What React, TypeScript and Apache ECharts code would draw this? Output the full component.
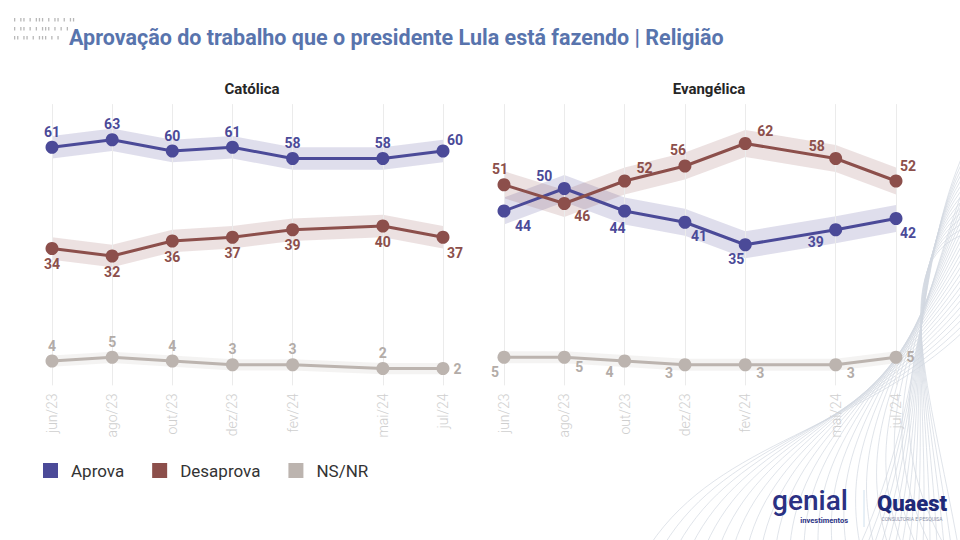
import React, { useEffect, useRef } from "react";
import * as echarts from "echarts";

// ---------- data ----------
const months = ["jun/23", "ago/23", "out/23", "dez/23", "fev/24", "mai/24", "jul/24"];
const monthOffsets = [0, 2, 4, 6, 8, 11, 13]; // months since jun/23

const seriesNames = ["Aprova", "Desaprova", "NS/NR"];

const catolicaAprova = [61, 63, 60, 61, 58, 58, 60];
const catolicaDesaprova = [34, 32, 36, 37, 39, 40, 37];
const catolicaNsnr = [4, 5, 4, 3, 3, 2, 2];

const evangelicaAprova = [44, 50, 44, 41, 35, 39, 42];
const evangelicaDesaprova = [51, 46, 52, 56, 62, 58, 52];
const evangelicaNsnr = [5, 5, 4, 3, 3, 3, 5];

// margin of error (band half-width) per series
const catolicaMargin = [3, 3, 1.5];
const evangelicaMargin = [3.6, 3.6, 1.6];

// ---------- styles ----------
const lineColors = ["#4b4a98", "#8c4f4b", "#bcb4af"];
const labelColors = ["#4b4a98", "#8c4f4b", "#b3aca8"];
const bandColors = ["rgba(75,74,152,0.18)", "rgba(140,79,75,0.17)", "rgba(188,180,175,0.16)"];

type LP = [string, number, number];
const catPlacement: LP[][] = [
  [["top", 0, 0], ["top", 0, 0], ["top", 0, 0], ["top", 0, 0], ["top", 0, 0], ["top", 0, 0], ["top", 12, 4]],
  [["bottom", 0, 0], ["bottom", 0, 0], ["bottom", 0, 0], ["bottom", 0, 0], ["bottom", 0, 0], ["bottom", 0, 0], ["bottom", 12, 0]],
  [["top", 0, 0], ["top", 0, 0], ["top", 0, 0], ["top", 0, 0], ["top", 0, 0], ["top", 0, 0], ["right", 0, 0]],
];
const evaPlacement: LP[][] = [
  [["bottom", 19, -1], ["top", -20, 3], ["bottom", -7, 1], ["bottom", 14, -2], ["bottom", -9, -1], ["bottom", -20, -3], ["bottom", 12, -1]],
  [["top", -4, 0], ["bottom", 18, -3], ["top", 20, 2], ["top", -7, -1], ["top", 20, 3], ["top", -19, 3], ["top", 12, 0]],
  [["bottom", -9, -1], ["bottom", 15, -6], ["bottom", -15, -5], ["bottom", -16, -7], ["bottom", 15, -7], ["bottom", 15, -7], ["right", 0, 0]],
];

const FONT = "Roboto";

function buildPanel(gi: number, values: number[][], margins: number[], placement: LP[][]) {
  const out: any[] = [];
  // vertical guide lines at each survey month
  out.push({
    type: "line",
    name: `guides-${gi}`,
    xAxisIndex: gi,
    yAxisIndex: gi,
    silent: true,
    symbol: "none",
    lineStyle: { width: 0, opacity: 0 },
    z: 0,
    data: values[0].map((v, i) => [monthOffsets[i], v]),
    markLine: {
      silent: true,
      symbol: ["none", "none"],
      label: { show: false },
      lineStyle: { color: "#ebebeb", width: 1, type: "solid", opacity: 1 },
      emphasis: { disabled: true },
      data: monthOffsets.map((m) => ({ xAxis: m })),
    },
  });
  // margin-of-error bands
  values.forEach((vals, k) => {
    const m = margins[k];
    out.push({
      type: "custom",
      name: `band-${gi}-${k}`,
      xAxisIndex: gi,
      yAxisIndex: gi,
      silent: true,
      z: 2,
      data: [[monthOffsets[0], vals[0]]],
      renderItem: (_params: any, api: any) => {
        const upper = vals.map((v, i) => api.coord([monthOffsets[i], v + m]));
        const lower = vals.map((v, i) => api.coord([monthOffsets[i], v - m])).reverse();
        return {
          type: "polygon",
          shape: { points: [...upper, ...lower] },
          style: { fill: bandColors[k] },
        };
      },
    });
  });
  values.forEach((vals, k) => {
    out.push({
      type: "line",
      name: seriesNames[k],
      xAxisIndex: gi,
      yAxisIndex: gi,
      symbol: "circle",
      symbolSize: 13,
      lineStyle: { width: 3, color: lineColors[k] },
      itemStyle: { color: lineColors[k] },
      z: 5,
      label: {
        show: true,
        fontFamily: FONT,
        fontSize: 14,
        fontWeight: "bold",
        color: labelColors[k],
        distance: 2,
      },
      data: vals.map((v, i) => {
        const p = placement[k][i];
        return {
          value: [monthOffsets[i], v],
          label: { position: p[0], offset: [p[1], p[2]], distance: p[0] === "right" ? 4 : 2 },
        };
      }),
    });
  });
  return out;
}

function decorations() {
  const els: any[] = [];
  // barcode-like marks top-left
  const rows = ["1 1101 111 1 11 1 11", "1 1101 1 111 1 1 1", "11 11 1 111 1 1"];
  const rowY = [18, 27, 36];
  rows.forEach((r, ri) => {
    let x = 14;
    for (const ch of r) {
      if (ch === "1") {
        els.push({ type: "rect", z: -5, silent: true, shape: { x, y: rowY[ri], width: 1.3, height: 3.5 }, style: { fill: "#b8b8b8" } });
      }
      x += 3.1;
    }
  });
  // waves bottom-right
  for (let i = 0; i < 22; i++) {
    els.push({
      type: "bezierCurve",
      z: -10,
      silent: true,
      shape: {
        x1: 650 + i * 14, y1: 545,
        cpx1: 720 + i * 8, cpy1: 440,
        cpx2: 860 + i * 2, cpy2: 430 - i * 3,
        x2: 965, y2: 330 - i * 7,
      },
      style: { stroke: "#d3d9e1", lineWidth: 0.7, fill: null },
    });
  }
  for (let i = 0; i < 15; i++) {
    els.push({
      type: "bezierCurve",
      z: -10,
      silent: true,
      shape: {
        x1: 965, y1: 150 + i * 6,
        cpx1: 915 - i * 2, cpy1: 260,
        cpx2: 930, cpy2: 390,
        x2: 860 + i * 7, y2: 545,
      },
      style: { stroke: "#d3d9e1", lineWidth: 0.7, fill: null },
    });
  }
  return els;
}

export default function App() {
  const ref = useRef<HTMLDivElement>(null);
  useEffect(() => {
    if (!ref.current) return;
    const chart = echarts.init(ref.current, null, { renderer: "svg", width: 960, height: 540 });

    const gridTop = 104.125;
    const gridHeight = 281.25;

    const xAxisCommon = {
      type: "value",
      min: 0,
      max: 13,
      interval: 1,
      axisLine: { show: false },
      axisTick: { show: false },
      splitLine: { show: false },
      axisLabel: {
        rotate: 90,
        margin: 8,
        color: "#cfcfcf",
        fontSize: 14,
        fontFamily: FONT,
        fontWeight: 300,
        formatter: (v: number) => {
          const i = monthOffsets.indexOf(Math.round(v));
          return i >= 0 && Math.abs(v - Math.round(v)) < 1e-6 ? months[i] : "";
        },
      },
    };
    const yAxisCommon = { type: "value", min: -2.5, max: 72.5, show: false };

    const option: any = {
      animation: false,
      backgroundColor: "#ffffff",
      textStyle: { fontFamily: FONT },
      grid: [
        { left: 52, width: 391, top: gridTop, height: gridHeight },
        { left: 504, width: 392, top: gridTop, height: gridHeight },
      ],
      xAxis: [
        { ...xAxisCommon, gridIndex: 0 },
        { ...xAxisCommon, gridIndex: 1 },
      ],
      yAxis: [
        { ...yAxisCommon, gridIndex: 0 },
        { ...yAxisCommon, gridIndex: 1 },
      ],
      legend: {
        data: seriesNames,
        left: 43,
        top: 462,
        padding: 0,
        icon: "rect",
        itemWidth: 15,
        itemHeight: 15,
        itemGap: 28,
        selectedMode: false,
        textStyle: { fontFamily: FONT, fontSize: 17, color: "#333333", padding: [0, 0, 0, 8] },
      },
      graphic: [
        ...decorations(),
        {
          type: "text",
          silent: true,
          style: {
            x: 69, y: 37, text: "Aprovação do trabalho que o presidente Lula está fazendo | Religião",
            fill: "#5874ad", font: `bold 21.5px ${FONT}`, verticalAlign: "middle", align: "left",
          },
        },
        {
          type: "text",
          silent: true,
          style: { x: 252, y: 89, text: "Católica", fill: "#262626", font: `bold 15px ${FONT}`, verticalAlign: "middle", align: "center" },
        },
        {
          type: "text",
          silent: true,
          style: { x: 709, y: 89, text: "Evangélica", fill: "#262626", font: `bold 15px ${FONT}`, verticalAlign: "middle", align: "center" },
        },
        // logos
        {
          type: "text",
          silent: true,
          style: { x: 810, y: 500, text: "genial", fill: "#2b3183", font: `500 28px ${FONT}`, verticalAlign: "middle", align: "center" },
        },
        {
          type: "text",
          silent: true,
          style: { x: 848, y: 520, text: "investimentos", fill: "#2b3183", font: `bold 7.5px ${FONT}`, verticalAlign: "middle", align: "right" },
        },
        { type: "line", silent: true, shape: { x1: 864, y1: 490, x2: 864, y2: 527 }, style: { stroke: "#cfe0ee", lineWidth: 1 } },
        {
          type: "text",
          silent: true,
          style: { x: 912, y: 503, text: "Quaest", fill: "#1f2a78", font: `900 22px ${FONT}`, verticalAlign: "middle", align: "center" },
        },
        {
          type: "text",
          silent: true,
          style: { x: 912, y: 519, text: "CONSULTORIA E PESQUISA", fill: "#8a90a8", font: `5px ${FONT}`, verticalAlign: "middle", align: "center" },
        },
      ],
      series: [
        ...buildPanel(0, [catolicaAprova, catolicaDesaprova, catolicaNsnr], catolicaMargin, catPlacement),
        ...buildPanel(1, [evangelicaAprova, evangelicaDesaprova, evangelicaNsnr], evangelicaMargin, evaPlacement),
      ],
    };
    chart.setOption(option);
    return () => chart.dispose();
  }, []);
  return <div ref={ref} style={{ position: "fixed", left: 0, top: 0, width: 960, height: 540, background: "#fff" }} />;
}
